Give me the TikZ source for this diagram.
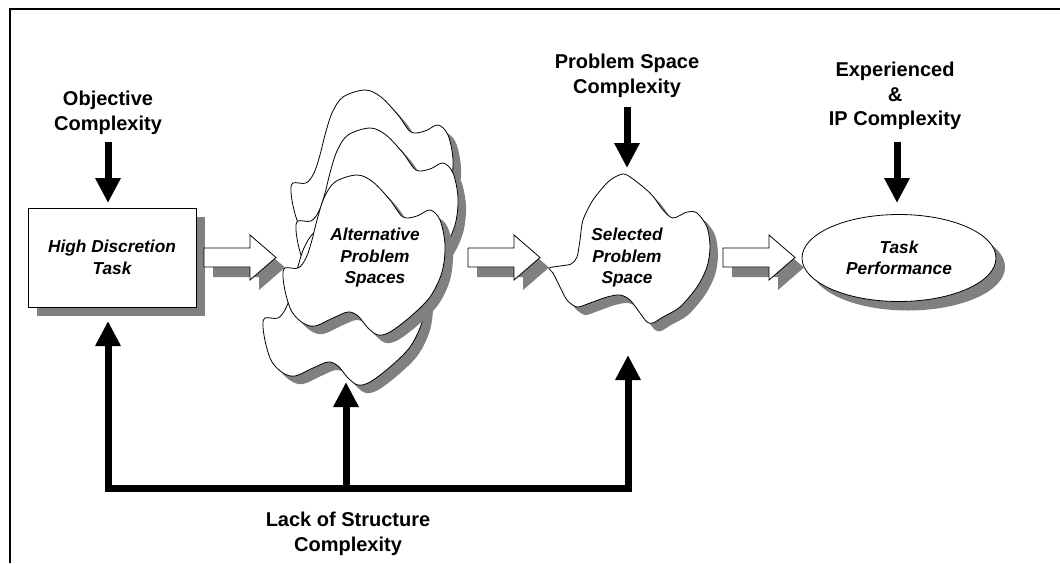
\documentclass[tikz,border=0pt]{standalone}
\usepackage{fontspec}
\setmainfont{Liberation Sans}
\usetikzlibrary{arrows.meta,shapes.geometric,shadows}
\definecolor{shadowgray}{RGB}{128,128,128}
\tikzset{
  frontcloud/.pic={
    \path[pic actions] plot[smooth cycle, tension=0.55] coordinates {
      (-18,-83) (-2,-76) (15,-58) (28,-41) (42,-42) (55,-48) (65,-38) (70,-13)
      (67,14) (55,39) (35,59) (15,74) (3,77) (-7,70) (-17,58) (-27,54) (-42,60)
      (-60,68) (-72,65) (-83,54) (-89,37) (-92,19) (-90,10) (-77,10) (-69,0)
      (-63,-18) (-58,-38) (-51,-60) (-40,-76)};
  },
  selcloud/.pic={
    \path[pic actions] plot[smooth cycle, tension=0.5] coordinates {
      (0,-83) (23,-65) (36,-48) (46,-40) (60,-46) (70,-45) (80,-31) (83,-11)
      (80,9) (70,29) (53,49) (36,59) (26,65) (20,64) (13,55) (3,42) (-7,37)
      (-20,39) (-37,45) (-50,49) (-60,42) (-67,29) (-74,15) (-78,10) (-67,8)
      (-56,6) (-50,-1) (-47,-18) (-44,-38) (-34,-58) (-20,-75) (-10,-82)};
  },
  blockarrow/.pic={
    \fill[shadowgray] (9,0.5) -- (55,0.5) -- (55,-12.5) -- (81,10) -- (55,32.5)
      -- (55,19.5) -- (9,19.5) -- cycle;
    \draw[fill=white, line width=0.8pt, line join=miter] (0,-9.5) -- (46,-9.5) -- (46,-22.5) -- (72,0)
      -- (46,22.5) -- (46,9.5) -- (0,9.5) -- cycle;
  }
}
\begin{document}
\begin{tikzpicture}[x=1pt,y=-1pt,
  lbl/.style={font=\fontsize{20}{24.5}\selectfont\bfseries, align=center, inner sep=0pt},
  inlbl/.style={font=\fontsize{17.3}{21.5}\selectfont\bfseries\itshape, align=center, inner sep=0pt},
  thickarrow/.style={line width=7pt, -{Triangle[length=25pt,width=24pt]}},
  outline/.style={draw=black, line width=0.8pt, fill=white},
  shade/.style={fill=shadowgray},
  sh/.style={drop shadow={shadow xshift=9pt, shadow yshift=-9pt, fill=shadowgray, opacity=1}},
]
\useasboundingbox (0,0) rectangle (1060,563);
\fill[white] (0,0) rectangle (1060,563);
% frame
\draw[line width=2pt] (10,563) -- (10,9) -- (1060,9);

% alternative problem spaces stack
\pic[shade] at (391,181) {frontcloud};
\pic[outline] at (383,173) {frontcloud};
\pic[shade] at (396,219) {frontcloud};
\pic[outline] at (388,211) {frontcloud};
\pic[shade] at (363,316) {frontcloud};
\pic[outline] at (355,308) {frontcloud};
\pic[shade] at (383,266) {frontcloud};
\pic[outline] at (375,258) {frontcloud};
\node[inlbl] (aps) at (375,258) {Alternative\\Problem\\Spaces};

% selected problem space
\pic[shade] at (635,266) {selcloud};
\pic[outline] at (627,258) {selcloud};
\node[inlbl] (sps) at (627,258) {Selected\\Problem\\Space};

% box
\node[draw, fill=white, line width=0.8pt, minimum width=168pt, minimum height=99pt, sh,
  inlbl] (hdt) at (112,257.5) {High Discretion\\Task};

% ellipse
\node[draw, fill=white, ellipse, line width=0.8pt, minimum width=194pt, minimum height=87pt, sh,
  inlbl] (tp) at (899,258) {Task\\Performance};

% block arrows
\pic at (204,257.5) {blockarrow};
\pic at (468,257.5) {blockarrow};
\pic at (723,257.5) {blockarrow};

% labels
\node[lbl] (oc) at (108,113) {Objective\\Complexity};
\node[lbl] (psc) at (627,76) {Problem Space\\Complexity};
\node[lbl] (eip) at (895,96) {Experienced\\\&\\IP Complexity};
\node[lbl] (lsc) at (348,534) {Lack of Structure\\Complexity};

% coordinates
\coordinate (oc0) at (108,142);
\coordinate (oc1) at (108,203);
\coordinate (ps0) at (627,107);
\coordinate (ps1) at (627,168);
\coordinate (ep0) at (897,142);
\coordinate (ep1) at (897,203);
\coordinate (t1) at (108,321);
\coordinate (t2) at (346,382);
\coordinate (t3) at (628,355);
\coordinate (j1) at (108,488);
\coordinate (j2) at (346,488);
\coordinate (j3) at (628,488);

\draw[thickarrow] (oc0) -- (oc1);
\draw[thickarrow] (ps0) -- (ps1);
\draw[thickarrow] (ep0) -- (ep1);
\draw[line width=7pt, {Triangle[length=25pt,width=24pt]}-{Triangle[length=25pt,width=24pt]}, line join=miter]
  (t1) -- (j1) -- (j3) -- (t3);
\draw[thickarrow] (j2) -- (t2);
\end{tikzpicture}
\end{document}
